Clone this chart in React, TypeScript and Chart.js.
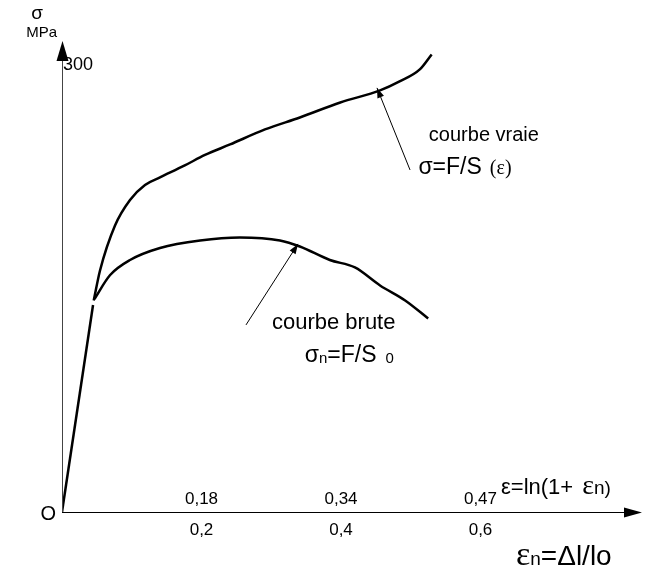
import { useEffect, useRef } from "react";
import { Chart, registerables } from "chart.js";
Chart.register(...registerables);

// nominal strain εn (x) and stress σ in MPa (y)
const elasticStrain = [0, 0.0445];
const elasticStress = [0, 138];
const trueStrain = [0.0455, 0.0545, 0.076, 0.0975, 0.119, 0.1405, 0.176, 0.205, 0.241, 0.291, 0.341, 0.399, 0.456, 0.484, 0.513, 0.53];
const trueStress = [141, 161, 191, 208, 218, 223, 231, 238, 245, 255, 263, 273, 281, 287, 295, 305];
const bruteStrain = [0.0465, 0.069, 0.0975, 0.1405, 0.198, 0.255, 0.3125, 0.341, 0.384, 0.42, 0.456, 0.492, 0.525];
const bruteStress = [142, 158, 168, 176, 181, 183, 181, 177, 168, 163, 151, 141, 129];

const xTickValues = [0.2, 0.4, 0.6];
const xTickLabelsNominal = ["0,2", "0,4", "0,6"];
const xTickLabelsTrue = ["0,18", "0,34", "0,47"];
const yTickValues = [300];
const yTickLabels = ["300"];

const X_MAX = 0.8287;
const Y_MAX = 311.3;

// annotation anchors in data units
const arrowTrue = { from: [0.499, 228], to: [0.4516, 282.7] };
const arrowBrute = { from: [0.2638, 124.7], to: [0.3384, 178.7] };

const SANS = '"Liberation Sans", Arial, sans-serif';
const SERIF = '"Liberation Serif", "Times New Roman", serif';

type Run = { text: string; font: string; dy?: number; gap?: number };

function drawRuns(ctx: CanvasRenderingContext2D, x: number, y: number, runs: Run[]) {
  let cx = x;
  for (const r of runs) {
    ctx.font = r.font;
    ctx.fillText(r.text, cx, y + (r.dy || 0));
    cx += ctx.measureText(r.text).width + (r.gap || 0);
  }
}

function arrowHead(ctx: CanvasRenderingContext2D, fx: number, fy: number, tx: number, ty: number, len: number, half: number) {
  const a = Math.atan2(ty - fy, tx - fx);
  const bx = tx - len * Math.cos(a);
  const by = ty - len * Math.sin(a);
  ctx.beginPath();
  ctx.moveTo(tx, ty);
  ctx.lineTo(bx + half * Math.sin(a), by - half * Math.cos(a));
  ctx.lineTo(bx - half * Math.sin(a), by + half * Math.cos(a));
  ctx.closePath();
  ctx.fill();
}

const decorPlugin = {
  id: "decor",
  afterDraw(chart: any) {
    const ctx: CanvasRenderingContext2D = chart.ctx;
    const xs = chart.scales.x;
    const ys = chart.scales.y;
    const px = (v: number) => xs.getPixelForValue(v);
    const py = (v: number) => ys.getPixelForValue(v);
    const x0 = px(0);
    const y0 = py(0);
    const area = chart.chartArea;
    ctx.save();
    ctx.fillStyle = "#000";
    // y axis
    ctx.lineWidth = 1;
    ctx.strokeStyle = "#444";
    ctx.beginPath();
    ctx.moveTo(x0 + 0.5, y0);
    ctx.lineTo(x0 + 0.5, area.top + 10);
    ctx.stroke();
    arrowHead(ctx, x0 + 0.5, y0, x0 + 0.5, area.top - 4, 20, 6);
    // x axis
    ctx.strokeStyle = "#000";
    ctx.beginPath();
    ctx.moveTo(x0, y0 + 0.5);
    ctx.lineTo(area.right - 10, y0 + 0.5);
    ctx.stroke();
    arrowHead(ctx, x0, y0 + 0.5, area.right + 2, y0 + 0.5, 18, 5);

    // tick labels
    ctx.textAlign = "center";
    ctx.textBaseline = "alphabetic";
    ctx.font = `17px ${SANS}`;
    xTickValues.forEach((v, i) => {
      ctx.fillText(xTickLabelsTrue[i], px(v), y0 - 8);
      ctx.fillText(xTickLabelsNominal[i], px(v), y0 + 23);
    });
    ctx.textAlign = "left";
    ctx.font = `18px ${SANS}`;
    yTickValues.forEach((v, i) => {
      ctx.fillText(yTickLabels[i], x0 + 1, py(v) + 8);
    });
    ctx.font = `20px ${SANS}`;
    ctx.textAlign = "right";
    ctx.fillText("O", x0 - 6, y0 + 8);

    // axis titles
    ctx.font = `19px ${SANS}`;
    ctx.textAlign = "center";
    ctx.fillText("σ", 37, 19);
    ctx.font = `15px ${SANS}`;
    ctx.textAlign = "right";
    ctx.fillText("MPa", x0 - 5, 37);
    ctx.textAlign = "left";
    drawRuns(ctx, 501, y0 - 18, [
      { text: "ε=ln(1+ ", font: `22px ${SANS}`, gap: 3 },
      { text: "ε", font: `28px ${SERIF}` },
      { text: "n)", font: `19px ${SANS}` },
    ]);
    drawRuns(ctx, 516, y0 + 53, [
      { text: "ε", font: `34px ${SERIF}` },
      { text: "n", font: `19px ${SANS}` },
      { text: "=Δl/lo", font: `28px ${SANS}` },
    ]);

    // annotations
    ctx.lineWidth = 1;
    [arrowTrue, arrowBrute].forEach((a) => {
      const fx = px(a.from[0]), fy = py(a.from[1]);
      const tx = px(a.to[0]), ty = py(a.to[1]);
      ctx.beginPath();
      ctx.moveTo(fx, fy);
      ctx.lineTo(tx, ty);
      ctx.stroke();
      arrowHead(ctx, fx, fy, tx, ty, 10, 3.5);
    });

    ctx.font = `20px ${SANS}`;
    ctx.fillText("courbe vraie", px(0.526), py(247));
    drawRuns(ctx, px(0.511), py(225), [
      { text: "σ=F/S", font: `23px ${SANS}`, gap: 8 },
      { text: "(ε)", font: `20px ${SERIF}` },
    ]);
    ctx.font = `22px ${SANS}`;
    ctx.fillText("courbe brute", px(0.301), py(122));
    drawRuns(ctx, px(0.348), py(100), [
      { text: "σ", font: `23px ${SANS}` },
      { text: "n", font: `15px ${SANS}`, dy: 1 },
      { text: "=F/S", font: `23px ${SANS}`, gap: 9 },
      { text: "0", font: `15px ${SANS}`, dy: 1 },
    ]);
    ctx.restore();
  },
};

export default function App() {
  const ref = useRef<HTMLCanvasElement | null>(null);
  useEffect(() => {
    document.body.style.margin = "0";
    const toPts = (xs: number[], ys: number[]) => xs.map((x, i) => ({ x, y: ys[i] }));
    const common = {
      showLine: true,
      borderColor: "#000",
      borderWidth: 2.5,
      pointRadius: 0,
      fill: false,
    };
    const chart = new Chart(ref.current as HTMLCanvasElement, {
      type: "scatter",
      data: {
        datasets: [
          { ...common, data: toPts(elasticStrain, elasticStress), tension: 0 },
          { ...common, data: toPts(trueStrain, trueStress), cubicInterpolationMode: "monotone" },
          { ...common, data: toPts(bruteStrain, bruteStress), cubicInterpolationMode: "monotone" },
        ] as any,
      },
      options: {
        animation: false,
        responsive: false,
        devicePixelRatio: 1,
        layout: { padding: { left: 62, top: 45, right: 8, bottom: 57 } },
        plugins: { legend: { display: false }, tooltip: { enabled: false } },
        scales: {
          x: { type: "linear", min: 0, max: X_MAX, display: false },
          y: { type: "linear", min: 0, max: Y_MAX, display: false },
        },
      },
      plugins: [decorPlugin],
    });
    return () => chart.destroy();
  }, []);
  return (
    <div style={{ position: "absolute", left: 0, top: 0, width: 648, height: 569, background: "#fff" }}>
      <canvas ref={ref} width={648} height={569} />
    </div>
  );
}
